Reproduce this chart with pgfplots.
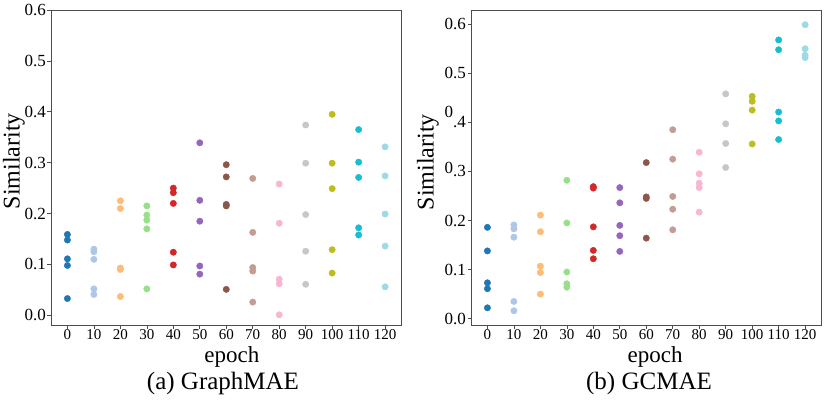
\documentclass[border=0pt]{standalone}
\usepackage{pgfplots}
\pgfplotsset{compat=1.18}
\usepackage{pgfplotstable}
\usepackage{fontspec}
\setmainfont{Liberation Serif}

\definecolor{ca}{HTML}{1F77B4}
\definecolor{cb}{HTML}{AEC7E8}
\definecolor{cc}{HTML}{FFBB78}
\definecolor{cd}{HTML}{98DF8A}
\definecolor{ce}{HTML}{D62728}
\definecolor{cf}{HTML}{9467BD}
\definecolor{cg}{HTML}{8C564B}
\definecolor{ch}{HTML}{C49C94}
\definecolor{ci}{HTML}{F7B6D2}
\definecolor{cj}{HTML}{C7C7C7}
\definecolor{ck}{HTML}{BCBD22}
\definecolor{cl}{HTML}{17BECF}
\definecolor{cm}{HTML}{9EDAE5}

\pgfplotstableread{
x y c
0 0.159 a
0 0.148 a
0 0.111 a
0 0.098 a
0 0.033 a
10 0.130 b
10 0.125 b
10 0.110 b
10 0.052 b
10 0.041 b
20 0.225 c
20 0.210 c
20 0.093 c
20 0.090 c
20 0.037 c
30 0.215 d
30 0.197 d
30 0.187 d
30 0.170 d
30 0.052 d
40 0.250 e
40 0.241 e
40 0.220 e
40 0.124 e
40 0.099 e
50 0.339 f
50 0.226 f
50 0.185 f
50 0.097 f
50 0.081 f
60 0.296 g
60 0.272 g
60 0.218 g
60 0.215 g
60 0.051 g
70 0.269 h
70 0.163 h
70 0.094 h
70 0.087 h
70 0.026 h
80 0.258 i
80 0.181 i
80 0.071 i
80 0.062 i
80 0.001 i
90 0.374 j
90 0.299 j
90 0.198 j
90 0.126 j
90 0.061 j
100 0.395 k
100 0.299 k
100 0.249 k
100 0.129 k
100 0.083 k
110 0.365 l
110 0.301 l
110 0.271 l
110 0.172 l
110 0.158 l
120 0.331 m
120 0.274 m
120 0.199 m
120 0.136 m
120 0.056 m
}\graphmae

\pgfplotstableread{
x y c
0 0.186 a
0 0.138 a
0 0.073 a
0 0.061 a
0 0.022 a
10 0.191 b
10 0.183 b
10 0.166 b
10 0.035 b
10 0.016 b
20 0.211 c
20 0.177 c
20 0.107 c
20 0.094 c
20 0.050 c
30 0.282 d
30 0.195 d
30 0.095 d
30 0.071 d
30 0.064 d
40 0.269 e
40 0.266 e
40 0.187 e
40 0.139 e
40 0.122 e
50 0.267 f
50 0.236 f
50 0.190 f
50 0.169 f
50 0.137 f
60 0.318 g
60 0.248 g
60 0.245 g
60 0.164 g
70 0.385 h
70 0.325 h
70 0.249 h
70 0.223 h
70 0.181 h
80 0.339 i
80 0.295 i
80 0.276 i
80 0.267 i
80 0.217 i
90 0.458 j
90 0.397 j
90 0.357 j
90 0.308 j
100 0.453 k
100 0.443 k
100 0.425 k
100 0.356 k
110 0.568 l
110 0.548 l
110 0.421 l
110 0.403 l
110 0.365 l
120 0.599 m
120 0.550 m
120 0.537 m
120 0.532 m
}\gcmae

\pgfplotsset{
  simstyle/.style={
    scale only axis,
    width=350pt, height=315pt,
    anchor=south west,
    xmin=-6.2, xmax=126,
    xtick={0,10,...,120},
    ytick={0,0.1,0.2,0.3,0.4,0.5,0.6},
    xtick pos=bottom, ytick pos=left,
    tick align=outside,
    major tick length=3.5pt,
    axis line style={black!70, line width=0.8pt},
    tick style={black!70, line width=0.6pt},
    /pgf/number format/assume math mode=true,
    xticklabel style={font=\fontsize{15}{15}\selectfont, inner sep=1pt},
    yticklabel style={font=\fontsize{17}{17}\selectfont, inner sep=1.5pt},
    xlabel style={font=\fontsize{23}{23}\selectfont, anchor=center},
    ylabel style={font=\fontsize{24}{24}\selectfont, anchor=center},
    xlabel={epoch}, ylabel={Similarity},
    clip=false,
  },
  dots/.style={
    only marks, scatter, scatter src=explicit symbolic,
    mark size=3.2pt,
    scatter/classes={
      a={mark=*, draw=ca, fill=ca},
      b={mark=*, draw=cb, fill=cb},
      c={mark=*, draw=cc, fill=cc},
      d={mark=*, draw=cd, fill=cd},
      e={mark=*, draw=ce, fill=ce},
      f={mark=*, draw=cf, fill=cf},
      g={mark=*, draw=cg, fill=cg},
      h={mark=*, draw=ch, fill=ch},
      i={mark=*, draw=ci, fill=ci},
      j={mark=*, draw=cj, fill=cj},
      k={mark=*, draw=ck, fill=ck},
      l={mark=*, draw=cl, fill=cl},
      m={mark=*, draw=cm, fill=cm}
    }
  }
}

\newcommand{\upzero}[1]{\smash{\raisebox{#1}{0}}}

\begin{document}
\begin{tikzpicture}[x=1pt,y=1pt]
\useasboundingbox (0,0) rectangle (830,405);
\begin{axis}[simstyle, at={(51pt,80pt)},
  ymin=-0.019, ymax=0.6,
  yticklabels={0.0,0.1,0.2,0.3,0.4,0.5,0.6},
  xlabel style={at={(axis description cs:0.517,-0.102)}},
  ylabel style={at={(axis description cs:-0.106,0.52)}},
]
\addplot[dots] table[x=x, y=y, meta=c] {\graphmae};
\end{axis}
\begin{axis}[simstyle, at={(471pt,80pt)},
  ymin=-0.013, ymax=0.629,
  yticklabels={0.0,0.1,0.2,{\upzero{3pt}.3},{\upzero{10pt}.4},0.5,0.6},
  xlabel style={at={(axis description cs:0.526,-0.102)}},
  ylabel style={at={(axis description cs:-0.123,0.517)}},
]
\addplot[dots] table[x=x, y=y, meta=c] {\gcmae};
\end{axis}
\node[font=\fontsize{25}{25}\selectfont] at (223,22) {(a) GraphMAE};
\node[font=\fontsize{25}{25}\selectfont] at (649,22) {(b) GCMAE};
\end{tikzpicture}
\end{document}
